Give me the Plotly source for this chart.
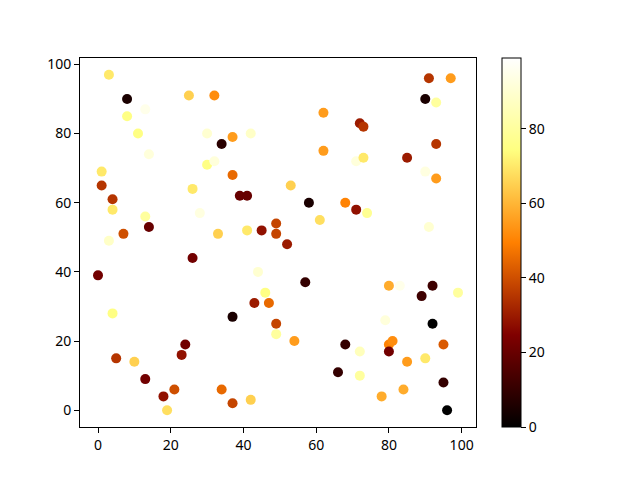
import plotly.graph_objects as go

# scatter points (x, y, colour value)
xs = [3, 8, 25, 32, 13, 8, 11, 30, 42, 37, 34, 14, 1, 30, 32, 37, 1, 26, 39, 41,
      4, 4, 13, 28, 14, 7, 33, 41, 45, 49, 49, 3,
      91, 97, 90, 93, 62, 72, 73, 93, 62, 71, 73, 85, 90, 93, 53, 58, 68, 71,
      74, 61, 91, 52,
      26, 0, 44, 46, 43, 47, 37, 4, 18, 49, 49, 24, 23, 5, 10, 13, 18, 21,
      34, 37, 42, 19,
      57, 80, 83, 92, 89, 99, 79, 92, 54, 68, 72, 80, 81, 80, 95, 85, 90, 66,
      72, 95, 84, 78, 96]
ys = [97, 90, 91, 91, 87, 85, 80, 80, 80, 79, 77, 74, 69, 71, 72, 68, 65, 64, 62, 62,
      61, 58, 56, 57, 53, 51, 51, 52, 52, 54, 51, 49,
      96, 96, 90, 89, 86, 83, 82, 77, 75, 72, 73, 73, 69, 67, 65, 60, 60, 58,
      57, 55, 53, 48,
      44, 39, 40, 34, 31, 31, 27, 28, 28, 25, 22, 19, 16, 15, 14, 9, 4, 6,
      6, 2, 3, 0,
      37, 36, 36, 36, 33, 34, 26, 25, 20, 19, 17, 19, 20, 17, 19, 14, 15, 11,
      10, 8, 6, 4, 0]
cs = [70, 5, 65, 52, 95, 75, 75, 90, 88, 55, 8, 92, 70, 75, 92, 45, 35, 70, 20, 20,
      35, 70, 80, 93, 20, 40, 65, 70, 28, 38, 38, 88,
      35, 55, 5, 80, 55, 30, 35, 35, 55, 92, 70, 30, 93, 55, 65, 5, 50, 28,
      78, 68, 90, 30,
      22, 22, 90, 75, 30, 45, 5, 75, 99, 38, 80, 22, 28, 35, 65, 22, 28, 40,
      45, 38, 65, 68,
      10, 58, 95, 12, 12, 80, 92, 0, 55, 10, 86, 50, 52, 22, 42, 55, 70, 10,
      80, 10, 58, 58, 0]
cbar_ticks = [0, 20, 40, 60, 80]
axis_ticks = [0, 20, 40, 60, 80, 100]

# matplotlib 'afmhot'
afmhot = [[0.0, 'rgb(0,0,0)'], [0.25, 'rgb(128,0,0)'], [0.5, 'rgb(255,128,0)'],
          [0.75, 'rgb(255,255,128)'], [1.0, 'rgb(255,255,255)']]

fig = go.Figure(go.Scatter(
    x=xs, y=ys, mode='markers',
    marker=dict(size=10, color=cs, colorscale=afmhot, cmin=0, cmax=max(cs),
                line=dict(width=0),
                colorbar=dict(x=1.0657, xanchor='left', xref='paper', xpad=0,
                              y=0, yanchor='bottom', len=1, lenmode='fraction',
                              ypad=0, thickness=19, outlinewidth=1,
                              outlinecolor='black',
                              tickvals=cbar_ticks, ticks='outside', ticklen=5,
                              tickcolor='black',
                              tickfont=dict(size=14, color='black')))
))

axis_style = dict(showgrid=False, zeroline=False, showline=True, linecolor='black',
                  linewidth=1, mirror=True, ticks='outside', ticklen=5,
                  tickcolor='black', tickvals=axis_ticks,
                  tickfont=dict(size=14, color='black'))

fig.update_xaxes(range=[-4.95, 103.95], **axis_style)
fig.update_yaxes(range=[-4.85, 101.85], **axis_style)

fig.update_layout(
    width=640, height=480,
    margin=dict(l=80, r=164, t=58, b=53),
    paper_bgcolor='white', plot_bgcolor='white',
    font=dict(family='Noto Sans, DejaVu Sans', size=14, color='black'),
    showlegend=False
)

# the page's default body margin shifts the figure by 8px
fig.write_html("out.html", config={'displayModeBar': False},
               post_script="document.body.style.margin='0';")
